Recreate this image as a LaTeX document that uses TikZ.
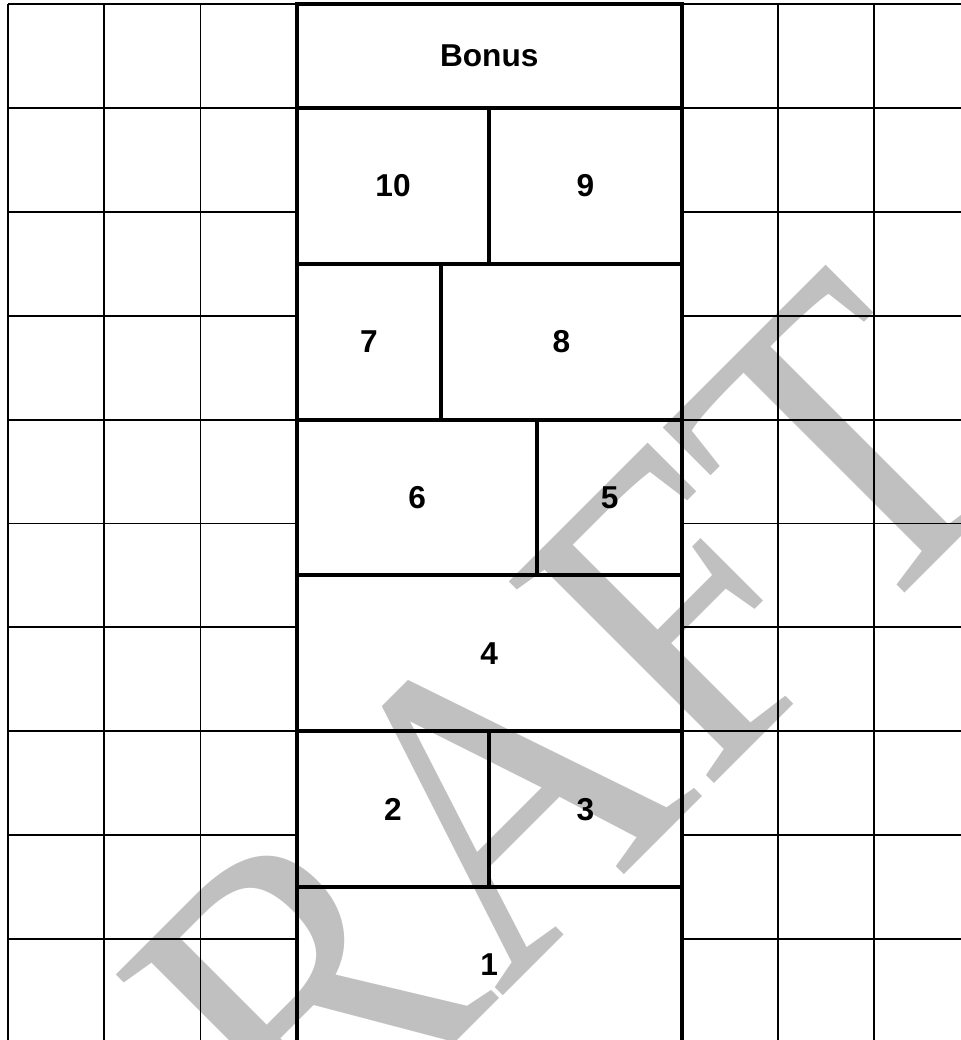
\documentclass[tikz,border=0pt]{standalone}
\usepackage{fontspec}
\setmainfont{Liberation Sans}
\newfontfamily\wmfont{Liberation Serif}
\usepackage{tikz}
\usetikzlibrary{positioning}

\definecolor{wmgray}{RGB}{192,192,192}

\tikzset{
    gridline/.style={line width=1.1pt},
    piece/.style n args={2}{draw, line width=2.3pt, inner sep=0pt, outer sep=0pt,
        minimum width=#1*1.925cm, minimum height=#2*2.078cm,
        font=\fontsize{18}{22}\selectfont\bfseries},
    watermark/.style={text=wmgray, inner sep=0pt, font=\wmfont\fontsize{250}{250}\selectfont},
}

\begin{document}
\begin{tikzpicture}[x=1.925cm, y=-2.078cm]
    \useasboundingbox (-0.0831,-0.0385) rectangle (9.901,9.971);
    \clip (-0.0831,-0.0385) rectangle (9.901,9.971);

    \node[watermark, anchor=base, rotate=45, xscale=0.91] (draft) at (5.850,8.886) {DRAFT};

    % squares either side
    \foreach \i in {0,...,10} {
        \draw[gridline] (0,\i) -- (3,\i);
        \draw[gridline] (7,\i) -- (10,\i);
    }
    \foreach \j in {0,1,2,8,9,10}
        \draw[gridline] (\j,0) -- (\j,10);

    % the raft
    \coordinate (top) at (3,0);
    \node[piece={4}{1}, below right=0pt and 0pt of top] (bonus) {Bonus};
    \node[piece={2}{1.5}, below right=0pt and 0pt of bonus.south west] (p10) {10};
    \node[piece={2}{1.5}, right=0pt of p10] (p9) {9};
    \node[piece={1.5}{1.5}, below right=0pt and 0pt of p10.south west] (p7) {7};
    \node[piece={2.5}{1.5}, right=0pt of p7] (p8) {8};
    \node[piece={2.5}{1.5}, below right=0pt and 0pt of p7.south west] (p6) {6};
    \node[piece={1.5}{1.5}, right=0pt of p6] (p5) {5};
    \node[piece={4}{1.5}, below right=0pt and 0pt of p6.south west] (p4) {4};
    \node[piece={2}{1.5}, below right=0pt and 0pt of p4.south west] (p2) {2};
    \node[piece={2}{1.5}, right=0pt of p2] (p3) {3};
    \node[piece={4}{1.5}, below right=0pt and 0pt of p2.south west] (p1) {1};
\end{tikzpicture}
\end{document}
